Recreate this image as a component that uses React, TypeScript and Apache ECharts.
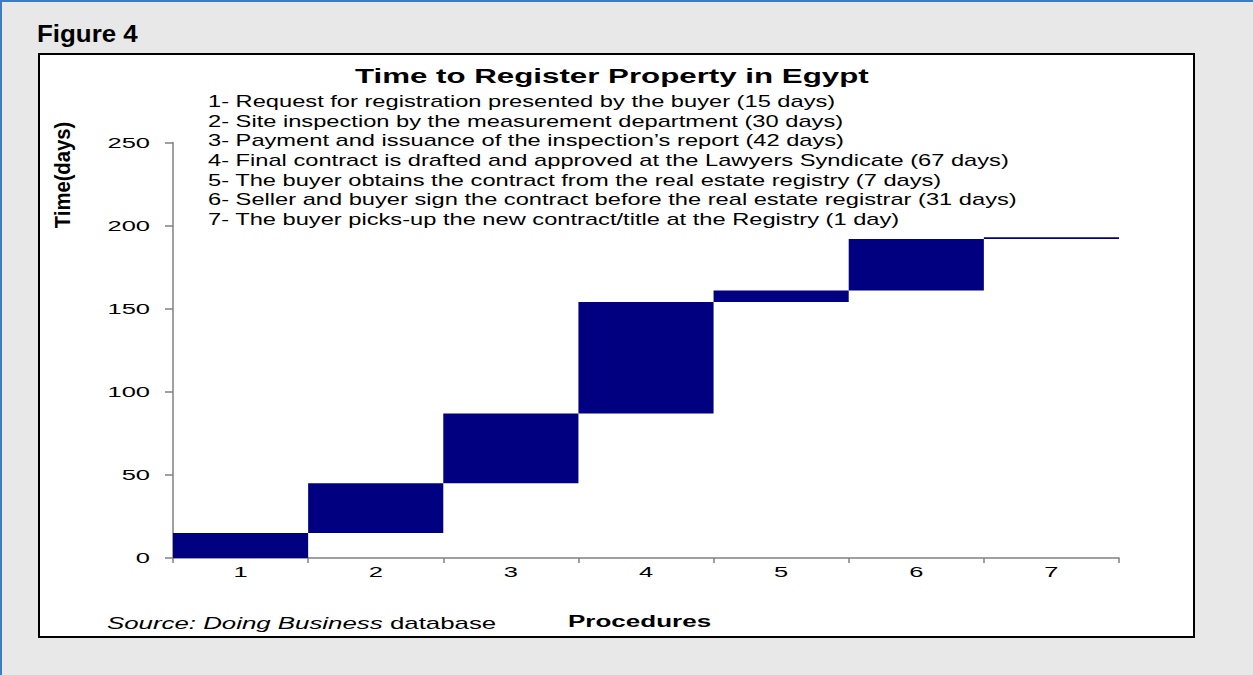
import React, { useEffect, useRef } from "react";
import * as echarts from "echarts";

const procedures = ["1", "2", "3", "4", "5", "6", "7"];
const startDays = [0, 15, 45, 87, 154, 161, 192];
const durations = [15, 30, 42, 67, 7, 31, 1];
const yTicks = { min: 0, max: 250, interval: 50 };
const yTickLabels = ["0", "50", "100", "150", "200", "250"];

const figureLabel = "Figure 4";
const chartTitle = "Time to Register Property in Egypt";
const yAxisTitle = "Time(days)";
const xAxisTitle = "Procedures";
const sourceItalic = "Source: Doing Business";
const sourcePlain = " database";
const procedureNotes = [
  "1- Request for registration presented by the buyer (15 days)",
  "2- Site inspection by the measurement department (30 days)",
  "3- Payment and issuance of the inspection\u2019s report (42 days)",
  "4- Final contract is drafted and approved at the Lawyers Syndicate (67 days)",
  "5- The buyer obtains the contract from the real estate registry (7 days)",
  "6- Seller and buyer sign the contract before the real estate registrar (31 days)",
  "7- The buyer picks-up the new contract/title at the Registry (1 day)",
];

const FONT = "'Liberation Sans', Arial, Helvetica, sans-serif";
const NAVY = "#000080";
const AXIS_GRAY = "#808080";

export default function App() {
  const ref = useRef<HTMLDivElement>(null);

  useEffect(() => {
    if (!ref.current) return;
    const chart = echarts.init(ref.current, null, { renderer: "svg" });

    const noteElements = procedureNotes.map((t, i) => ({
      type: "text",
      x: 208,
      y: 101.3 + i * 19.67,
      scaleX: 1.48,
      z: 5,
      style: {
        text: t,
        fill: "#000",
        font: `16px ${FONT}`,
        align: "left",
        verticalAlign: "middle",
      },
    }));

    const staticGraphics: any[] = [
      {
        type: "rect",
        z: -10,
        silent: true,
        shape: { x: 1, y: 1, width: 1400, height: 800 },
        style: { fill: "none", stroke: "#3d7cc0", lineWidth: 2 },
      },
      {
        type: "rect",
        z: -10,
        silent: true,
        shape: { x: 39, y: 54, width: 1155, height: 583 },
        style: { fill: "#ffffff", stroke: "#000", lineWidth: 2 },
      },
      {
        type: "text",
        x: 37,
        y: 33,
        scaleX: 1.08,
        z: 5,
        style: {
          text: figureLabel,
          fill: "#000",
          font: `bold 24px ${FONT}`,
          align: "left",
          verticalAlign: "middle",
        },
      },
      {
        type: "text",
        x: 355,
        y: 75.5,
        scaleX: 1.49,
        z: 5,
        style: {
          text: chartTitle,
          fill: "#000",
          font: `bold 21px ${FONT}`,
          align: "left",
          verticalAlign: "middle",
        },
      },
      ...noteElements,
      {
        type: "text",
        x: 62,
        y: 175,
        rotation: Math.PI / 2,
        scaleX: 0.92,
        z: 5,
        style: {
          text: yAxisTitle,
          fill: "#000",
          font: `bold 22px ${FONT}`,
          align: "center",
          verticalAlign: "middle",
        },
      },
      {
        type: "text",
        x: 568,
        y: 621.5,
        scaleX: 1.53,
        z: 5,
        style: {
          text: xAxisTitle,
          fill: "#000",
          font: `bold 17px ${FONT}`,
          align: "left",
          verticalAlign: "middle",
        },
      },
      {
        type: "text",
        x: 107,
        y: 623.5,
        scaleX: 1.52,
        z: 5,
        style: {
          text: `{i|${sourceItalic}}${sourcePlain}`,
          fill: "#000",
          font: `17px ${FONT}`,
          align: "left",
          verticalAlign: "middle",
          rich: {
            i: { fontStyle: "italic", fontFamily: FONT, fontSize: 17, fill: "#000" },
          },
        },
      },
    ];

    chart.setOption({
      animation: false,
      backgroundColor: "#e8e8e8",
      grid: { left: 173, top: 142.5, right: 134, bottom: 117 },
      xAxis: {
        type: "category",
        data: procedures,
        boundaryGap: true,
        axisLine: { lineStyle: { color: AXIS_GRAY, width: 1.5 } },
        axisTick: { show: true, length: 5, lineStyle: { color: AXIS_GRAY, width: 1.5 } },
        axisLabel: { show: false },
        splitLine: { show: false },
      },
      yAxis: {
        type: "value",
        min: yTicks.min,
        max: yTicks.max,
        interval: yTicks.interval,
        axisLine: { show: true, lineStyle: { color: AXIS_GRAY, width: 1.5 } },
        axisTick: { show: true, length: 8, lineStyle: { color: AXIS_GRAY, width: 1.5 } },
        axisLabel: { show: false },
        splitLine: { show: false },
      },
      series: [
        {
          type: "bar",
          stack: "waterfall",
          data: startDays,
          barWidth: "100%",
          barCategoryGap: "0%",
          itemStyle: { color: "transparent" },
          silent: true,
        },
        {
          type: "bar",
          stack: "waterfall",
          data: durations,
          barWidth: "100%",
          barCategoryGap: "0%",
          itemStyle: { color: NAVY },
        },
      ],
      graphic: staticGraphics,
    });

    // Tick labels placed through the chart's own axis scales
    const yLabelEls = yTickLabels.map((lab) => {
      const p = chart.convertToPixel({ gridIndex: 0 }, [procedures[0], Number(lab)]) as number[];
      return {
        type: "text",
        x: 150,
        y: p[1],
        scaleX: 1.7,
        z: 5,
        style: {
          text: lab,
          fill: "#000",
          font: `15px ${FONT}`,
          align: "right",
          verticalAlign: "middle",
        },
      };
    });
    const xLabelEls = procedures.map((cat) => {
      const p = chart.convertToPixel({ gridIndex: 0 }, [cat, yTicks.min]) as number[];
      return {
        type: "text",
        x: p[0],
        y: p[1] + 14,
        scaleX: 1.7,
        z: 5,
        style: {
          text: cat,
          fill: "#000",
          font: `15px ${FONT}`,
          align: "center",
          verticalAlign: "middle",
        },
      };
    });

    chart.setOption({ graphic: [...staticGraphics, ...yLabelEls, ...xLabelEls] });

    return () => chart.dispose();
  }, []);

  return (
    <div
      ref={ref}
      style={{ position: "absolute", left: 0, top: 0, width: 1253, height: 675 }}
    />
  );
}
